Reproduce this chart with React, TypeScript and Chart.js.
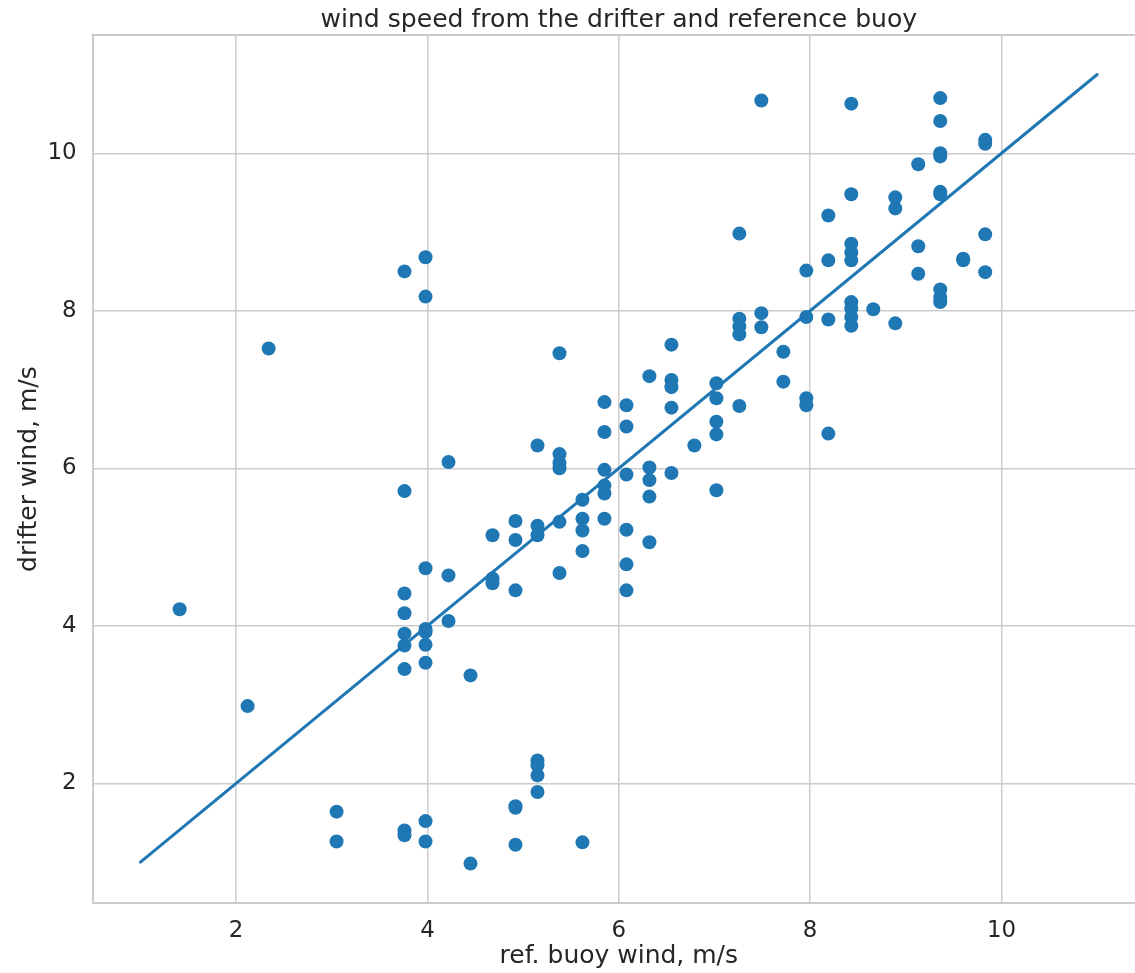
import { useEffect, useRef } from "react";
import { Chart, registerables } from "chart.js";

Chart.register(...registerables);

// reference buoy wind (x) and drifter wind (y), m/s
const refWind = [
  1.41,
  2.12,
  2.34,
  3.05, 3.05,
  3.76, 3.76, 3.76, 3.76, 3.76, 3.76, 3.76, 3.76, 3.76,
  3.98, 3.98, 3.98, 3.98, 3.98, 3.98, 3.98, 3.98, 3.98,
  4.22, 4.22, 4.22,
  4.45, 4.45,
  4.68, 4.68, 4.68,
  4.92, 4.92, 4.92, 4.92, 4.92, 4.92,
  5.15, 5.15, 5.15, 5.15, 5.15, 5.15, 5.15,
  5.38, 5.38, 5.38, 5.38, 5.38, 5.38,
  5.62, 5.62, 5.62, 5.62, 5.62,
  5.85, 5.85, 5.85, 5.85, 5.85, 5.85,
  6.08, 6.08, 6.08, 6.08, 6.08, 6.08,
  6.32, 6.32, 6.32, 6.32, 6.32,
  6.55, 6.55, 6.55, 6.55, 6.55,
  6.79,
  7.02, 7.02, 7.02, 7.02, 7.02,
  7.26, 7.26, 7.26, 7.26, 7.26,
  7.49, 7.49, 7.49,
  7.72, 7.72,
  7.96, 7.96, 7.96, 7.96,
  8.19, 8.19, 8.19, 8.19,
  8.43, 8.43, 8.43, 8.43, 8.43, 8.43, 8.43, 8.43, 8.43,
  8.66,
  8.89, 8.89, 8.89,
  9.13, 9.13, 9.13,
  9.36, 9.36, 9.36, 9.36, 9.36, 9.36, 9.36, 9.36, 9.36,
  9.6, 9.6,
  9.83, 9.83, 9.83, 9.83,
];

const drifterWind = [
  4.21,
  2.98,
  7.52,
  1.64, 1.26,
  8.5, 5.71, 4.41, 4.16, 3.9, 3.75, 3.45, 1.4, 1.34,
  8.68, 8.18, 4.73, 3.96, 3.92, 3.76, 3.53, 1.52, 1.26,
  6.08, 4.64, 4.06,
  3.37, 0.98,
  5.15, 4.6, 4.54,
  5.33, 5.09, 4.45, 1.71, 1.69, 1.22,
  6.29, 5.27, 5.15, 2.29, 2.23, 2.1, 1.89,
  7.46, 6.18, 6.07, 6.0, 5.32, 4.67,
  5.6, 5.36, 5.21, 4.95, 1.25,
  6.84, 6.46, 5.98, 5.78, 5.68, 5.36,
  6.8, 6.53, 5.92, 5.22, 4.78, 4.45,
  7.17, 6.01, 5.85, 5.64, 5.06,
  7.57, 7.12, 7.03, 6.77, 5.94,
  6.29,
  7.08, 6.89, 6.59, 6.43, 5.72,
  8.98, 7.9, 7.8, 7.7, 6.79,
  10.67, 7.97, 7.79,
  7.48, 7.1,
  8.51, 7.92, 6.89, 6.8,
  9.21, 8.64, 7.89, 6.44,
  10.63, 9.48, 8.85, 8.74, 8.64, 8.11, 8.03, 7.92, 7.81,
  8.02,
  9.44, 9.3, 7.84,
  9.86, 8.82, 8.47,
  10.7, 10.41, 10.0, 9.96, 9.51, 9.48, 8.27, 8.17, 8.11,
  8.66, 8.64,
  10.17, 10.12, 8.97, 8.49,
];

// one-to-one reference line
const lineX = [1, 11];
const lineY = [1, 11];

const xTicks = [2, 4, 6, 8, 10];
const yTicks = [2, 4, 6, 8, 10];

const titleText = "wind speed from the drifter and reference buoy";
const xLabel = "ref. buoy wind, m/s";
const yLabel = "drifter wind, m/s";

const BLUE = "#1f77b4";
const GRID = "#cccccc";
const TEXT = "#262626";
const FONT = "'DejaVu Sans', sans-serif";

const topSpine = {
  id: "topSpine",
  beforeDatasetsDraw(chart: any) {
    const { ctx, chartArea } = chart;
    ctx.save();
    ctx.strokeStyle = GRID;
    ctx.lineWidth = 2;
    ctx.beginPath();
    ctx.moveTo(chartArea.left - 1, chartArea.top);
    ctx.lineTo(chartArea.right + 1, chartArea.top);
    ctx.stroke();
    ctx.restore();
  },
};

export default function App() {
  const ref = useRef<HTMLCanvasElement | null>(null);

  useEffect(() => {
    document.body.style.margin = "0";
    const canvas = ref.current;
    if (!canvas) return;
    const scatterPts = refWind.map((x, i) => ({ x, y: drifterWind[i] }));
    const linePts = lineX.map((x, i) => ({ x, y: lineY[i] }));

    const chart = new Chart(canvas, {
      type: "scatter",
      data: {
        datasets: [
          {
            type: "line",
            data: linePts,
            borderColor: BLUE,
            borderWidth: 3,
            pointRadius: 0,
            fill: false,
            tension: 0,
            borderCapStyle: "round",
          } as any,
          {
            type: "scatter",
            data: scatterPts,
            backgroundColor: BLUE,
            borderWidth: 0,
            pointRadius: 7,
            pointHoverRadius: 7,
          },
        ],
      },
      options: {
        animation: false,
        responsive: false,
        devicePixelRatio: 1,
        events: [],
        layout: { padding: { left: 0, right: 0, top: 0, bottom: 0 } },
        plugins: {
          legend: { display: false },
          tooltip: { enabled: false },
          title: {
            display: true,
            text: titleText,
            fullSize: false,
            color: TEXT,
            font: { family: FONT, size: 25.1, weight: "normal", lineHeight: 1.2 },
            padding: { top: 5, bottom: 0 },
          },
        },
        scales: {
          x: {
            type: "linear",
            min: 0.5,
            max: 11.5,
            afterFit: (s: any) => {
              s.height = 70;
            },
            afterBuildTicks: (s: any) => {
              s.ticks = xTicks.map((v) => ({ value: v }));
            },
            ticks: {
              color: TEXT,
              font: { family: FONT, size: 22.9 },
              padding: 14,
              maxRotation: 0,
            },
            grid: { color: GRID, lineWidth: 1.5, drawTicks: false },
            border: { display: true, color: GRID, width: 2 },
            title: {
              display: true,
              text: xLabel,
              color: TEXT,
              font: { family: FONT, size: 25, lineHeight: 1.2 },
              padding: { top: 0, bottom: 2 },
            },
          },
          y: {
            type: "linear",
            min: 0.48,
            max: 11.5,
            afterFit: (s: any) => {
              s.width = 92.6;
            },
            afterBuildTicks: (s: any) => {
              s.ticks = yTicks.map((v) => ({ value: v }));
            },
            ticks: {
              color: TEXT,
              font: { family: FONT, size: 22.9 },
              padding: 16,
            },
            grid: { color: GRID, lineWidth: 1.5, drawTicks: false },
            border: { display: true, color: GRID, width: 2 },
            title: {
              display: true,
              text: yLabel,
              color: TEXT,
              font: { family: FONT, size: 25, lineHeight: 1.2 },
              padding: { top: 14.6, bottom: 0 },
            },
          },
        },
      },
      plugins: [topSpine],
    } as any);

    return () => chart.destroy();
  }, []);

  return (
    <div style={{ width: 1135, height: 973, overflow: "hidden", background: "#fff" }}>
      <canvas ref={ref} width={1152} height={973} style={{ display: "block" }} />
    </div>
  );
}
